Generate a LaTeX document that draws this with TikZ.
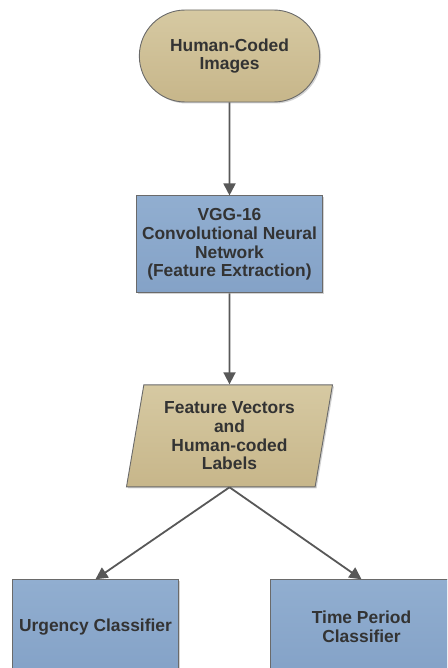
\documentclass[tikz,border=0pt]{standalone}
\usepackage{fontspec}
\setmainfont{Liberation Sans}
\usepackage{xcolor}
\usepackage{tikz}
\usetikzlibrary{arrows.meta,positioning,shapes.misc,shapes.geometric,shadows}
\definecolor{tan}{HTML}{CEBF95}
\definecolor{tantop}{HTML}{D6C9A2}
\definecolor{tanbot}{HTML}{C7B68A}
\definecolor{steel}{HTML}{8AA8CC}
\definecolor{steeltop}{HTML}{91AED0}
\definecolor{steelbot}{HTML}{84A2C7}
\definecolor{edge}{HTML}{6A6A6A}
\definecolor{ink}{HTML}{333333}
\definecolor{arrowgray}{HTML}{585858}
\tikzset{
  font=\fontsize{17.4}{18.8}\selectfont\bfseries,
  box/.style={
    draw=edge, line width=0.9pt, text=ink, align=center,
    drop shadow={shadow xshift=1.5pt, shadow yshift=-1.5pt, opacity=0.35}
  },
  terminal/.style={box, rounded rectangle, top color=tantop, bottom color=tanbot,
    minimum width=187pt, minimum height=92pt},
  process/.style={box, rectangle, top color=steeltop, bottom color=steelbot,
    minimum width=186pt, minimum height=97pt},
  dataio/.style={box, trapezium, trapezium left angle=77, trapezium right angle=103,
    trapezium stretches body=true, top color=tantop, bottom color=tanbot,
    minimum width=206pt, minimum height=102pt},
  classifier/.style={process, minimum width=166pt, minimum height=94pt},
  flow/.style={-{Triangle[length=12pt,width=12pt]}, draw=arrowgray, line width=1.8pt}
}
\begin{document}
\begin{tikzpicture}[x=1pt, y=-1pt]
  \useasboundingbox (0,0) rectangle (447,668);
  \clip (0,0) rectangle (447,668);

  \node[terminal] (images) at (229.5,56) {Human-Coded\\Images};
  \node[process, below=93pt of images] (vgg) {VGG-16\\Convolutional Neural\\Network\\(Feature Extraction)};
  \node[dataio, below=91pt of vgg] (features) {Feature Vectors\\and\\Human-coded\\Labels};
  \node[classifier, below=92pt of features, xshift=-134pt] (urgency) {Urgency Classifier};
  \node[classifier, minimum width=182pt, below=92pt of features, xshift=132pt] (period) {Time Period\\Classifier};

  \draw[flow] (images) -- (vgg);
  \draw[flow] (vgg) -- (features);
  \draw[flow] (features.south) -- (urgency.north);
  \draw[flow] (features.south) -- (period.north);
\end{tikzpicture}
\end{document}
